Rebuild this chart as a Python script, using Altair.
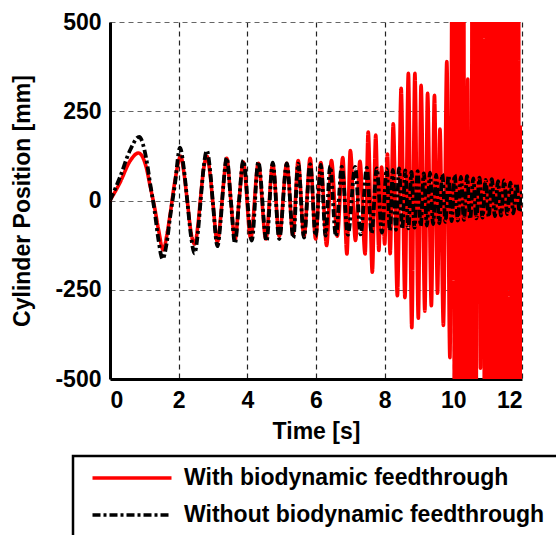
import altair as alt
import pandas as pd

SERIES_WITH = "With biodynamic feedthrough"
SERIES_WITHOUT = "Without biodynamic feedthrough"
series_names = [SERIES_WITH, SERIES_WITHOUT]
series_colors = ["#ff0000", "#000000"]
series_dashes = [[1, 0], [8, 3, 3, 3]]

# Red: with biodynamic feedthrough (time [s], position [mm])
red_t = [0.00, 0.29, 0.58, 0.83, 1.05, 1.17, 1.30, 1.41, 1.55, 1.65, 1.75, 1.90,
         2.06, 2.15, 2.25, 2.36, 2.47, 2.56, 2.64, 2.73, 2.82, 2.92, 3.00, 3.13,
         3.22, 3.30, 3.40, 3.52, 3.64, 3.76, 3.88, 4.10, 4.32, 4.54, 4.74, 4.93,
         5.15, 5.33, 5.48, 5.65, 5.83, 5.99, 6.14, 6.31, 6.45, 6.62, 6.78, 6.90,
         7.00, 7.15, 7.28, 7.43, 7.52, 7.64, 7.74, 7.83, 7.91, 8.00, 8.08, 8.16,
         8.25, 8.37, 8.48, 8.59, 8.69, 8.79, 8.88, 8.98, 9.06, 9.17, 9.25, 9.36,
         9.45, 9.54, 9.61, 9.71, 9.81, 9.90, 9.98, 10.06, 10.13, 10.21, 10.28,
         10.35, 10.42, 10.50, 10.57, 10.64, 10.71, 10.79, 10.86, 10.93, 11.00,
         11.08, 11.15, 11.22, 11.29, 11.37, 11.44, 11.51, 11.58, 11.66, 11.73,
         11.80, 11.87, 11.95, 12.00]
red_v = [0, 50, 110, 133, 95, 40, -20, -80, -138, -100, -40, 60,
         124, 80, 0, -90, -122, -70, 10, 90, 124, 70, -10, -116,
         -50, 40, 118, 0, -110, 0, 108, -105, 104, -108, 102, -100,
         104, -96, 112, -100, 118, -108, 106, -126, 112, -100, 120, -150,
         140, -112, 110, -150, 192, -201, 183, -140, 94, -122, 130, -149,
         215, -267, 314, -272, 356, -356, 356, -330, 323, -310, 300, -295,
         295, -260, 200, -350, 389, -440, 900, -1400, 1800, -2000, 2100,
         -2200, 340, -2300, 2300, -2400, 2400, -470, 2500, -2500, 2500,
         -2600, 2600, -2600, 2700, -2700, 2700, -2800, 2800, -2800, 2800,
         -2900, 2900, -3000, 210]

# Black: without biodynamic feedthrough
black_t = [0.00, 0.29, 0.58, 0.85, 1.05, 1.17, 1.30, 1.41, 1.53, 1.65, 1.75, 1.89,
           2.04, 2.15, 2.25, 2.36, 2.46, 2.56, 2.64, 2.73, 2.82, 2.92, 3.00, 3.13,
           3.22, 3.30, 3.40, 3.52, 3.64, 3.76, 3.88, 4.13, 4.32, 4.56, 4.74, 4.93,
           5.15, 5.34, 5.48, 5.65, 5.83, 5.99, 6.14, 6.28, 6.41, 6.58, 6.75, 6.93,
           7.14, 7.30, 7.48, 7.62, 7.77, 7.92, 8.06, 8.15, 8.24, 8.33, 8.42, 8.51,
           8.60, 8.69, 8.78, 8.87, 8.96, 9.05, 9.14, 9.23, 9.32, 9.41, 9.50, 9.59,
           9.68, 9.77, 9.86, 9.95, 10.04, 10.13, 10.22, 10.31, 10.40, 10.49, 10.58,
           10.67, 10.76, 10.85, 10.94, 11.03, 11.12, 11.21, 11.30, 11.39, 11.48,
           11.57, 11.66, 11.75, 11.84, 11.93, 12.00]
black_v = [0, 65, 140, 178, 120, 47, -30, -109, -164, -120, -47, 45,
           148, 90, 0, -100, -148, -90, 0, 95, 140, 80, -10, -128,
           -60, 40, 120, 0, -120, 0, 112, -112, 108, -114, 106, -108,
           104, -105, 103, -104, 102, -100, 100, -98, 96, -100, 95, -96,
           94, -95, 92, -92, 90, -90, 88, -84, 86, -82, 90, -80,
           84, -78, 80, -76, 82, -72, 76, -70, 78, -66, 72, -64,
           74, -60, 70, -58, 72, -56, 66, -54, 68, -52, 62,
           -50, 64, -48, 58, -46, 60, -44, 54, -42, 56,
           -38, 50, -36, 48, -32, 30]

x_ticks = [0, 2, 4, 6, 8, 10, 12]
y_ticks = [-500, -250, 0, 250, 500]

df = pd.concat([
    pd.DataFrame({"t": red_t, "pos": red_v, "series": SERIES_WITH}),
    pd.DataFrame({"t": black_t, "pos": black_v, "series": SERIES_WITHOUT}),
], ignore_index=True)

FONT = "Liberation Sans"

legend = alt.Legend(
    title=" ", titleOrient="right", titlePadding=30, titleFontSize=8,
    orient="none", legendX=-37, legendY=434,
    symbolType="M-4,0H4", symbolSize=390, symbolStrokeWidth=3.6,
    labelFont=FONT, labelFontSize=23, labelFontWeight="bold", labelColor="black",
    labelLimit=700, padding=10, rowPadding=13, symbolOffset=37, labelOffset=40,
    strokeColor="black", fillColor="white",
)

color = alt.Color("series:N", scale=alt.Scale(domain=series_names, range=series_colors), legend=legend)
dash = alt.StrokeDash("series:N", scale=alt.Scale(domain=series_names, range=series_dashes), legend=legend)

x = alt.X("t:Q", scale=alt.Scale(domain=[0, 12], nice=False),
          axis=alt.Axis(values=x_ticks, title="Time [s]", titlePadding=8))
y = alt.Y("pos:Q", scale=alt.Scale(domain=[-500, 500], nice=False),
          axis=alt.Axis(values=y_ticks, title="Cylinder Position [mm]",
                        labelExpr="'' + datum.value", titlePadding=20))

base = alt.Chart(df).encode(x=x, y=y, color=color, strokeDash=dash)

red = base.transform_filter(alt.datum.series == SERIES_WITH).mark_line(
    strokeWidth=3.6, clip=True, interpolate="monotone")
black = base.transform_filter(alt.datum.series == SERIES_WITHOUT).mark_line(
    strokeWidth=3.8, clip=True, interpolate="monotone")

chart = alt.layer(red, black).properties(
    width=412, height=357,
    autosize=alt.AutoSizeParams(type="none"),
    padding={"left": 110, "top": 22, "right": 34, "bottom": 156},
).configure_axis(
    domainColor="black", domainWidth=3, ticks=False,
    grid=True, gridDash=[5, 4], gridColor="#666666", gridWidth=1.2,
    labelFont=FONT, labelFontSize=23, labelFontWeight="bold", labelColor="black",
    labelPadding=9,
    titleFont=FONT, titleFontSize=23, titleFontWeight="bold", titleColor="black",
).configure_axisX(
    gridColor="#222222", labelPadding=10,
).configure_legend(
    strokeWidth=2.5,
).configure_view(stroke=None)

chart.save("out.html", embed_options={"renderer": "svg", "actions": False})
